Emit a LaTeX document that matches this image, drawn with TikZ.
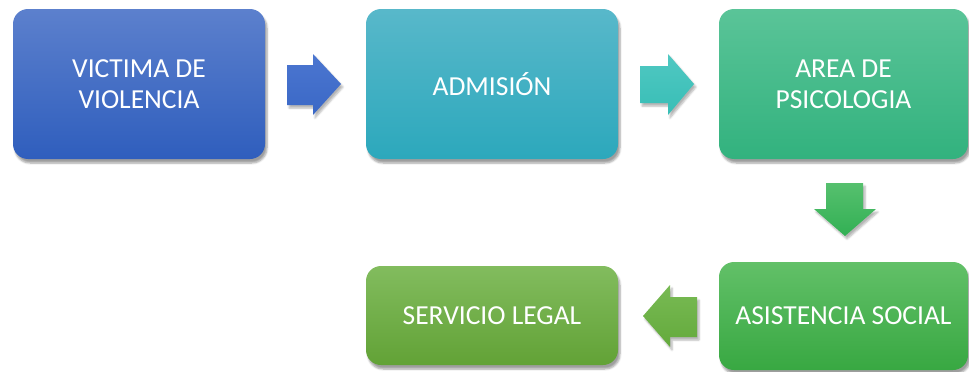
\documentclass[tikz,border=0pt]{standalone}
\usepackage{fontspec}
\setmainfont{Carlito}
\usetikzlibrary{shadows.blur}
\definecolor{b1t}{RGB}{92,128,205}
\definecolor{b1b}{RGB}{47,94,189}
\definecolor{b2t}{RGB}{88,184,202}
\definecolor{b2b}{RGB}{44,168,188}
\definecolor{b3t}{RGB}{90,196,152}
\definecolor{b3b}{RGB}{50,178,126}
\definecolor{b4t}{RGB}{98,192,104}
\definecolor{b4b}{RGB}{56,168,66}
\definecolor{b5t}{RGB}{130,188,94}
\definecolor{b5b}{RGB}{98,162,54}
\definecolor{a1t}{RGB}{76,118,208}
\definecolor{a1b}{RGB}{58,104,198}
\definecolor{a2t}{RGB}{80,200,194}
\definecolor{a2b}{RGB}{56,190,182}
\definecolor{a3t}{RGB}{86,192,110}
\definecolor{a3b}{RGB}{50,176,84}
\definecolor{a4t}{RGB}{120,186,84}
\definecolor{a4b}{RGB}{100,170,60}
\tikzset{
  stepbox/.style={rounded corners=15pt, text=white, align=center,
    font=\fontsize{27.5}{31}\selectfont, inner sep=0pt,
    blur shadow={shadow xshift=2pt, shadow yshift=-4pt, shadow blur steps=6, shadow opacity=38}},
  blockarrow/.style={blur shadow={shadow xshift=2pt, shadow yshift=-3pt, shadow blur steps=5, shadow opacity=30}}
}
\begin{document}
\begin{tikzpicture}[x=1pt,y=-1pt]
\useasboundingbox (0,0) rectangle (969,372);
% boxes
\node[stepbox, minimum width=252pt, minimum height=150pt, top color=b1t, bottom color=b1b]
  (victima) at (139,84) {VICTIMA DE\\VIOLENCIA};
\node[stepbox, minimum width=252pt, minimum height=150pt, top color=b2t, bottom color=b2b]
  (admision) at (492,84) {ADMISIÓN};
\node[stepbox, minimum width=249pt, minimum height=150pt, top color=b3t, bottom color=b3b]
  (psico) at (843.5,84) {AREA DE\\PSICOLOGIA};
\node[stepbox, minimum width=249pt, minimum height=108pt, top color=b4t, bottom color=b4b]
  (social) at (843.5,316) {ASISTENCIA SOCIAL};
\node[stepbox, minimum width=252pt, minimum height=99pt, top color=b5t, bottom color=b5b]
  (legal) at (492,315.5) {SERVICIO LEGAL};
% block arrows
\path[blockarrow, top color=a1t, bottom color=a1b]
  (287,65) -- (313,65) -- (313,54) -- (341,84) -- (313,115) -- (313,105) -- (287,105) -- cycle;
\path[blockarrow, top color=a2t, bottom color=a2b]
  (640,66) -- (668,66) -- (668,54) -- (694,84) -- (668,115) -- (668,103) -- (640,103) -- cycle;
\path[blockarrow, top color=a3t, bottom color=a3b]
  (826,183) -- (863,183) -- (863,209) -- (876,209) -- (845,236) -- (814,209) -- (826,209) -- cycle;
\path[blockarrow, top color=a4t, bottom color=a4b]
  (697,297) -- (670,297) -- (670,285) -- (643,316) -- (670,347) -- (670,337) -- (697,337) -- cycle;
\end{tikzpicture}
\end{document}
